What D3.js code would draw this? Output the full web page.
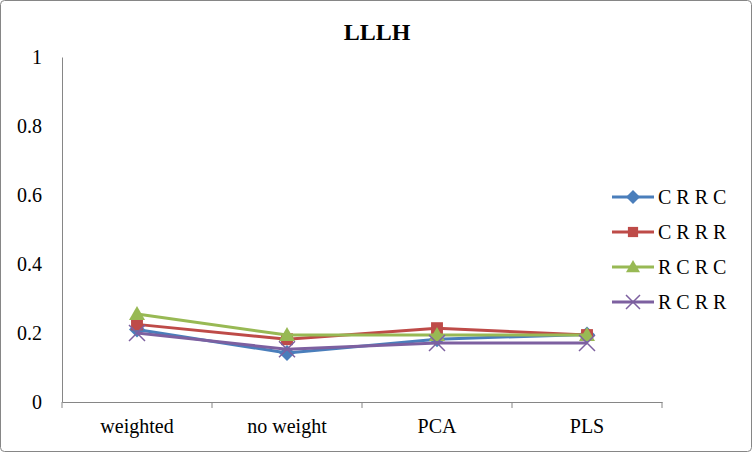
<!DOCTYPE html>
<html><head><meta charset="utf-8">
<script src="https://cdn.jsdelivr.net/npm/d3@7"></script>
</head><body style="margin:0">
<svg id="c" width="752" height="452" font-family="Times New Roman"></svg>
<script>
const title = "LLLH";
const categories = ["weighted", "no weight", "PCA", "PLS"];
const seriesNames = ["C R R C", "C R R R", "R C R C", "R C R R"];
const crrc = [0.21, 0.142, 0.182, 0.196];
const crrr = [0.225, 0.182, 0.214, 0.194];
const rcrc = [0.255, 0.194, 0.194, 0.194];
const rcrr = [0.20, 0.153, 0.171, 0.171];
const yTicks = [0, 0.2, 0.4, 0.6, 0.8, 1];
const colors = ["#4a7ebb", "#be4b48", "#98b954", "#7d60a0"];
const shapes = ["diamond", "square", "triangle", "x"];
const seriesValues = [crrc, crrr, rcrc, rcrr];
const FONT = "Times New Roman";

const svg = d3.select("#c");
svg.append("rect").attr("x",0.5).attr("y",0.5).attr("width",751).attr("height",451)
  .attr("rx",4).attr("fill","#fff").attr("stroke","#868686").attr("stroke-width",1);

const L=62, R=662, T=57, B=402;
const x = d3.scaleBand().domain(categories).range([L,R]);
const y = d3.scaleLinear().domain([0,1]).range([B,T]);

svg.append("text").attr("x",377).attr("y",40).attr("text-anchor","middle")
  .attr("font-family",FONT).attr("font-size",24).attr("font-weight","bold").text(title);

// y axis
const ya = svg.append("g").attr("transform",`translate(${L},0)`)
  .call(d3.axisLeft(y).tickValues(yTicks).tickSize(0).tickPadding(20).tickFormat(d=>String(d)));
ya.attr("font-family",FONT).attr("font-size",20);
ya.select(".domain").attr("stroke","#868686");
ya.selectAll("text").attr("fill","#000").attr("font-family",FONT).attr("font-size",20);

// x axis
const xa = svg.append("g").attr("transform",`translate(0,${B})`)
  .call(d3.axisBottom(x).tickSize(0).tickPadding(17));
xa.attr("font-family",FONT).attr("font-size",20);
xa.select(".domain").attr("stroke","#868686");
xa.selectAll("text").attr("fill","#000").attr("font-family",FONT).attr("font-size",20);
const bounds = categories.map(c=>x(c)).concat([R]);
xa.selectAll(".bt").data(bounds).enter().append("line")
  .attr("x1",d=>d).attr("x2",d=>d).attr("y1",0).attr("y2",6).attr("stroke","#868686");

function marker(g, shape, cx, cy, color, s) {
  if (shape==="diamond") {
    g.append("path").attr("d",`M${cx},${cy-s}L${cx+s},${cy}L${cx},${cy+s}L${cx-s},${cy}Z`).attr("fill",color);
  } else if (shape==="square") {
    g.append("rect").attr("x",cx-s*0.85).attr("y",cy-s*0.85).attr("width",s*1.7).attr("height",s*1.7).attr("fill",color);
  } else if (shape==="triangle") {
    g.append("path").attr("d",`M${cx},${cy-s}L${cx+s},${cy+s*0.75}L${cx-s},${cy+s*0.75}Z`).attr("fill",color);
  } else {
    g.append("path").attr("d",`M${cx-s},${cy-s}L${cx+s},${cy+s}M${cx+s},${cy-s}L${cx-s},${cy+s}`)
      .attr("stroke",color).attr("stroke-width",1.5).attr("fill","none");
  }
}

const line = d3.line().x((d,i)=>x(categories[i])+x.bandwidth()/2).y(d=>y(d));
seriesValues.forEach((vals,si)=>{
  const g = svg.append("g");
  g.append("path").datum(vals).attr("d",line).attr("fill","none")
    .attr("stroke",colors[si]).attr("stroke-width",3).attr("stroke-linejoin","round");
  vals.forEach((v,i)=>marker(g, shapes[si], x(categories[i])+x.bandwidth()/2, y(v), colors[si], si===1?7:8));
});

// legend
const legY = [197, 232, 267, 302];
seriesNames.forEach((n,i)=>{
  const g = svg.append("g");
  g.append("line").attr("x1",612).attr("x2",654).attr("y1",legY[i]).attr("y2",legY[i])
    .attr("stroke",colors[i]).attr("stroke-width",3);
  marker(g, shapes[i], 633, legY[i], colors[i], i===1?6:7);
  g.append("text").attr("x",658).attr("y",legY[i]+7).attr("font-family",FONT).attr("font-size",20).text(n);
});
</script>
</body></html>
